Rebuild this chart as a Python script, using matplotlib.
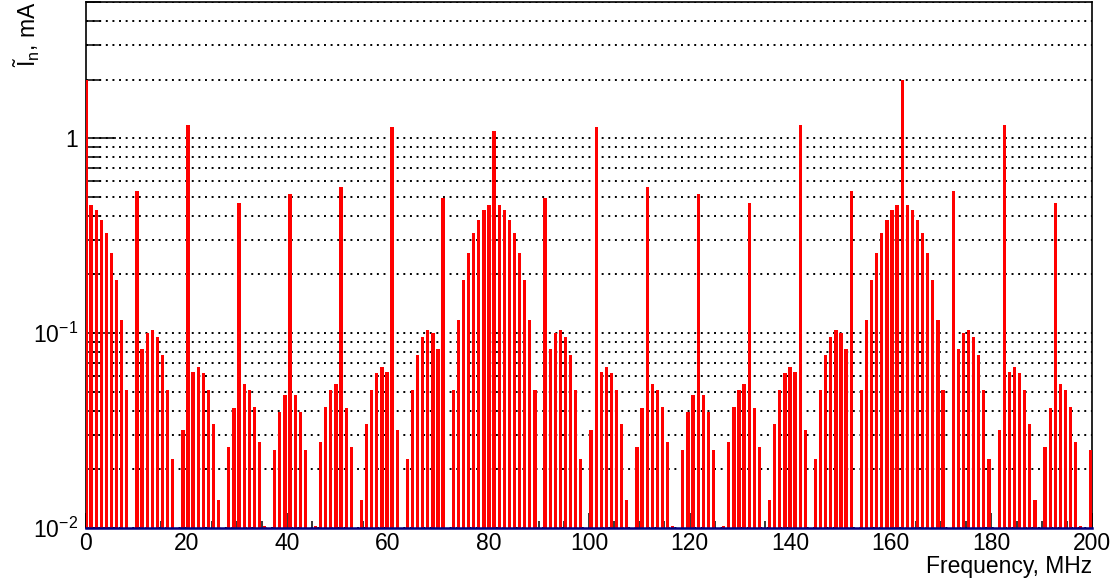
import numpy as np
import matplotlib
matplotlib.use("Agg")
from matplotlib import pyplot as plt
from matplotlib.ticker import MultipleLocator, FixedLocator, FixedFormatter, LogLocator, NullFormatter

plt.rcParams['font.family'] = ['Liberation Sans', 'DejaVu Sans']
plt.rcParams['mathtext.fontset'] = 'custom'
plt.rcParams['mathtext.rm'] = 'Liberation Sans'
plt.rcParams['mathtext.it'] = 'Liberation Sans:italic'

# harmonic spacing in MHz and harmonic numbers
f_step = 1.0142
harmonic = list(range(198))

# amplitude of each harmonic, mA (rows of ten)
amplitude = [
    2.0, 0.452, 0.426, 0.382, 0.326, 0.258, 0.188, 0.117, 0.0513, 0,
    0.536, 0.0832, 0.1006, 0.104, 0.096, 0.0769, 0.0513, 0.0225, 0, 0.0317,
    1.166, 0.0634, 0.0673, 0.0626, 0.0513, 0.0343, 0.014, 0, 0.0261, 0.0414,
    0.467, 0.0548, 0.0513, 0.0419, 0.0275, 0.0102, 0, 0.0252, 0.0392, 0.0481,
    0.517, 0.0481, 0.0392, 0.0252, 0, 0.0102, 0.0275, 0.0419, 0.0513, 0.0548,
    0.562, 0.0414, 0.0261, 0, 0.014, 0.0343, 0.0513, 0.0626, 0.0673, 0.0634,
    1.139, 0.0317, 0, 0.0225, 0.0513, 0.0769, 0.096, 0.104, 0.1006, 0.0832,
    0.496, 0, 0.0513, 0.117, 0.188, 0.258, 0.326, 0.382, 0.426, 0.452,
    1.086, 0.452, 0.426, 0.382, 0.326, 0.258, 0.188, 0.117, 0.0513, 0,
    0.496, 0.0832, 0.1006, 0.104, 0.096, 0.0769, 0.0513, 0.0225, 0, 0.0317,
    1.139, 0.0634, 0.0673, 0.0626, 0.0513, 0.0343, 0.014, 0, 0.0261, 0.0414,
    0.562, 0.0548, 0.0513, 0.0419, 0.0275, 0.0102, 0, 0.0252, 0.0392, 0.0481,
    0.517, 0.0481, 0.0392, 0.0252, 0, 0.0102, 0.0275, 0.0419, 0.0513, 0.0548,
    0.467, 0.0414, 0.0261, 0, 0.014, 0.0343, 0.0513, 0.0626, 0.0673, 0.0634,
    1.166, 0.0317, 0, 0.0225, 0.0513, 0.0769, 0.096, 0.104, 0.1006, 0.0832,
    0.536, 0, 0.0513, 0.117, 0.188, 0.258, 0.326, 0.382, 0.426, 0.452,
    2.0, 0.452, 0.426, 0.382, 0.326, 0.258, 0.188, 0.117, 0.0513, 0,
    0.536, 0.0832, 0.1006, 0.104, 0.096, 0.0769, 0.0513, 0.0225, 0, 0.0317,
    1.166, 0.0634, 0.0673, 0.0626, 0.0513, 0.0343, 0.014, 0, 0.0261, 0.0414,
    0.467, 0.0548, 0.0513, 0.0419, 0.0275, 0.0102, 0, 0.0252,
]

y_ticks = [0.01, 0.1, 1]
y_labels = ['$10^{-2}$', '$10^{-1}$', '1']

freq = np.array(harmonic) * f_step
amp = np.array(amplitude)
keep = amp > 0

fig = plt.figure(figsize=(11.11, 5.78), dpi=100)
ax = fig.add_axes([0.0774, 0.0865, 0.9055, 0.910])

ax.bar(freq[keep], amp[keep], width=0.65, color='#ff0000', linewidth=0, zorder=3)

ax.set_yscale('log')
ax.set_xlim(0, 200)
ax.set_ylim(0.01, 5.0)

ax.xaxis.set_major_locator(MultipleLocator(20))
ax.xaxis.set_minor_locator(MultipleLocator(5))
ax.yaxis.set_major_locator(FixedLocator(y_ticks))
ax.yaxis.set_major_formatter(FixedFormatter(y_labels))
ax.yaxis.set_minor_locator(LogLocator(base=10, subs=np.arange(2, 10)))
ax.yaxis.set_minor_formatter(NullFormatter())

ax.tick_params(axis='x', which='major', direction='in', length=10.5, width=1.1,
               labelsize=16.5, pad=3, top=False)
ax.tick_params(axis='x', which='minor', direction='in', length=5, width=1.1, top=False)
ax.tick_params(axis='y', which='major', direction='in', length=21.5, width=1.1,
               labelsize=16.5, pad=6, right=False)
ax.tick_params(axis='y', which='minor', direction='in', length=10.8, width=1.1, right=False)

ax.yaxis.grid(True, which='both', color='black', linewidth=1.4,
              linestyle=(0, (1, 2.4)), zorder=0)
ax.xaxis.grid(False)
ax.set_axisbelow(True)

for side in ['left', 'top', 'right']:
    ax.spines[side].set_color('black')
    ax.spines[side].set_linewidth(1.2)
ax.spines['bottom'].set_color('#000080')
ax.spines['bottom'].set_linewidth(1.8)
ax.spines['bottom'].set_zorder(3.5)

ax.set_xlabel('Frequency, MHz', fontsize=16.5, loc='right', labelpad=0)
fig.text(0.024, 0.998, r'$\tilde{\mathrm{I}}_{\mathrm{n}}$, mA', rotation=90,
         ha='center', va='top', fontsize=16.5)

fig.savefig('out.png', dpi=100)
